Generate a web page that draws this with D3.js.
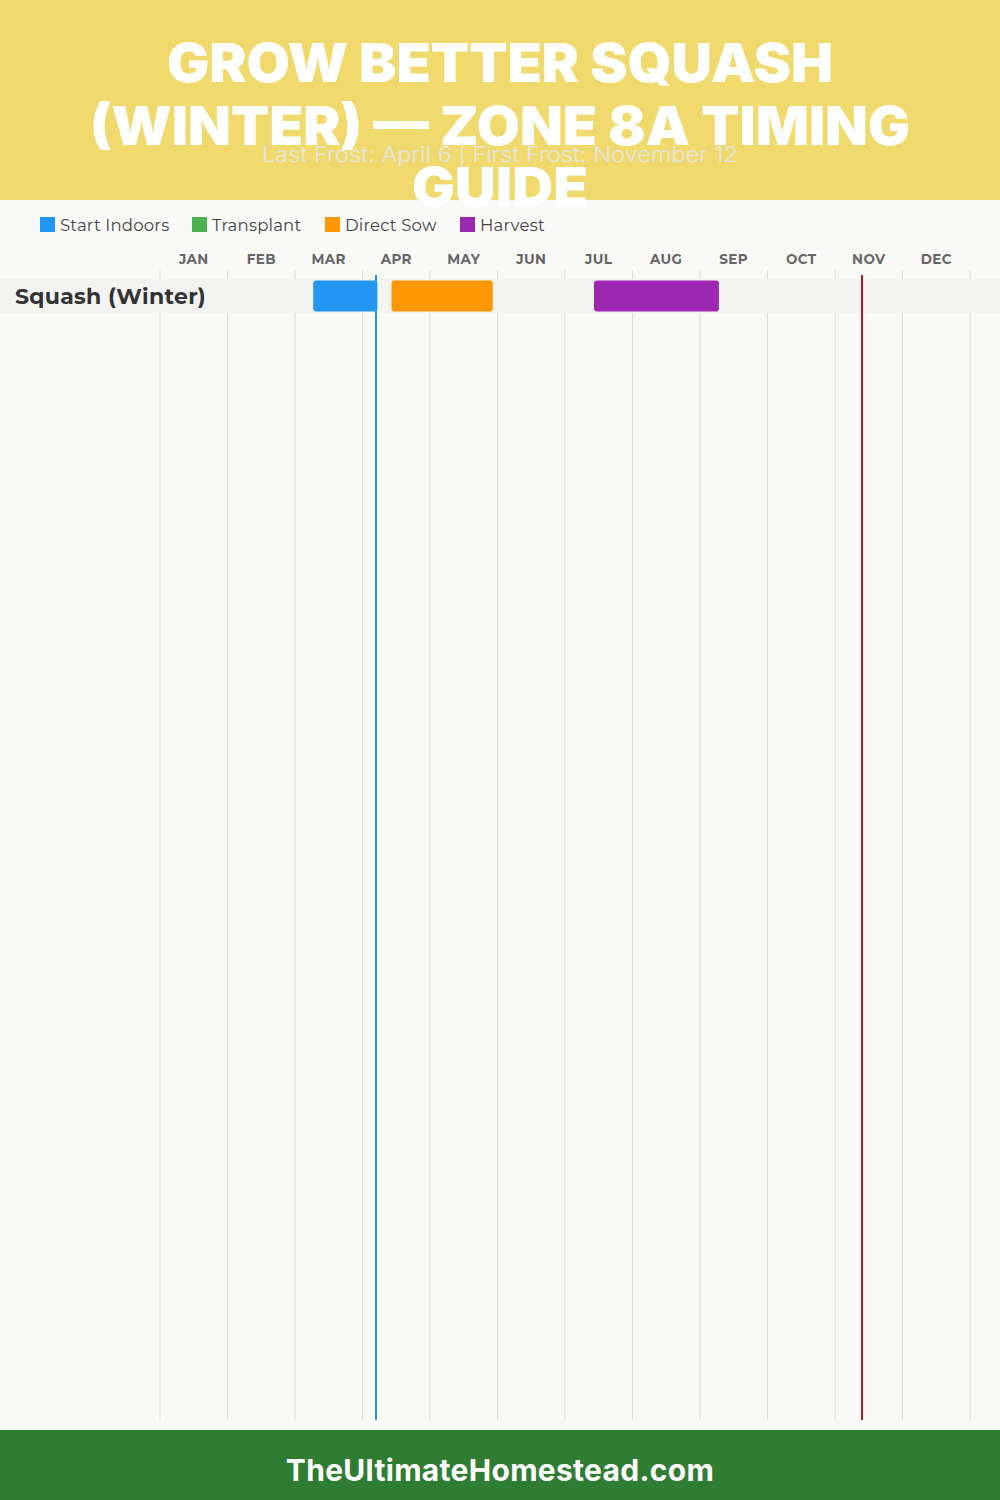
<!DOCTYPE html>
<html><head><meta charset="utf-8">
<script src="https://cdn.jsdelivr.net/npm/d3@7"></script>
<style>html,body{margin:0;padding:0;background:#f9f9f7;}svg{display:block;}</style>
</head><body>
<svg id="c" width="1000" height="1500"></svg>
<script>
const titleLines = ["GROW BETTER SQUASH", "(WINTER) — ZONE 8A TIMING", "GUIDE"];
const subtitle = "Last Frost: April 6 | First Frost: November 12";
const months = ["JAN","FEB","MAR","APR","MAY","JUN","JUL","AUG","SEP","OCT","NOV","DEC"];
const crops = ["Squash (Winter)"];
const phases = ["Start Indoors","Transplant","Direct Sow","Harvest"];
const phaseColors = ["#2196f3","#4caf50","#ff9800","#9c27b0"];
// values in months from Jan 1 (month index + day/30)
const startIndoors = [[2.27, 3.22]];
const transplant = [null];
const directSow = [[3.43, 4.93]];
const harvest = [[6.43, 8.28]];
const lastFrost = 3 + 6/30;   // April 6
const firstFrost = 10 + 12/30; // November 12
const footer = "TheUltimateHomestead.com";

const svg = d3.select("#c");
svg.append("rect").attr("width",1000).attr("height",1500).attr("fill","#f9f9f7");
svg.append("rect").attr("width",1000).attr("height",200).attr("fill","#f0da6e");

const x = d3.scaleLinear().domain([0,12]).range([160,970]);
const y = d3.scaleBand().domain(crops).range([279, 279 + 34*crops.length]);

// grid
svg.append("g").selectAll("line").data(d3.range(13)).join("line")
  .attr("x1",d=>x(d)).attr("x2",d=>x(d)).attr("y1",270).attr("y2",1420)
  .attr("stroke","#dddddd").attr("stroke-width",1);

// month labels
svg.append("g").selectAll("text").data(months).join("text")
  .attr("x",(d,i)=>x(i+0.5)).attr("y",264).attr("text-anchor","middle")
  .attr("font-family","Montserrat, Inter, sans-serif").attr("font-weight",700)
  .attr("font-size",13.5).attr("fill","#666").attr("letter-spacing",0.4).text(d=>d);

// row bands
svg.append("g").selectAll("rect").data(crops).join("rect")
  .attr("x",0).attr("width",1000).attr("y",d=>y(d)).attr("height",y.bandwidth())
  .attr("fill","#f3f3f2");
svg.append("g").selectAll("text").data(crops).join("text")
  .attr("x",15).attr("y",d=>y(d)+y.bandwidth()/2+7.5)
  .attr("font-family","Montserrat, Inter, sans-serif").attr("font-weight",700)
  .attr("font-size",22).attr("fill","#333").attr("letter-spacing",0.3).text(d=>d);

const series = [startIndoors, transplant, directSow, harvest];
series.forEach((s, k) => {
  svg.append("g").selectAll("rect").data(crops.map((c,i)=>({c, v:s[i]})).filter(d=>d.v))
    .join("rect")
    .attr("x",d=>x(d.v[0])).attr("width",d=>x(d.v[1])-x(d.v[0]))
    .attr("y",d=>y(d.c)+1.5).attr("height",y.bandwidth()-3)
    .attr("rx",3).attr("fill",phaseColors[k]);
});

// frost lines
svg.append("line").attr("x1",x(lastFrost)).attr("x2",x(lastFrost)).attr("y1",275).attr("y2",1420)
  .attr("stroke","#2196f3").attr("stroke-width",2);
svg.append("line").attr("x1",x(firstFrost)).attr("x2",x(firstFrost)).attr("y1",275).attr("y2",1420)
  .attr("stroke","#b71c1c").attr("stroke-width",2);

// legend
const legendX = [40, 192, 325, 460];
const lg = svg.append("g").selectAll("g").data(phases).join("g")
  .attr("transform",(d,i)=>`translate(${legendX[i]},217)`);
lg.append("rect").attr("width",15).attr("height",15).attr("fill",(d,i)=>phaseColors[i]);
lg.append("text").attr("x",20).attr("y",13.5).attr("font-family","Montserrat, Inter, sans-serif")
  .attr("font-size",16.5).attr("fill","#444").attr("letter-spacing",0.2).text(d=>d);

// title
const tl = [82, 145, 206];
const tw = [666, 820, 176];
svg.append("g").selectAll("text").data(titleLines).join("text")
  .attr("x",500).attr("y",(d,i)=>tl[i]).attr("text-anchor","middle")
  .attr("font-family","Inter, sans-serif").attr("font-weight",900).attr("font-size",54)
  .attr("fill","#ffffff").attr("textLength",(d,i)=>tw[i]).attr("lengthAdjust","spacingAndGlyphs")
  .text(d=>d);
svg.append("text").attr("x",500).attr("y",162).attr("text-anchor","middle")
  .attr("font-family","Inter, sans-serif").attr("font-weight",300).attr("font-size",21)
  .attr("fill","#e6e6e6").attr("textLength",476).attr("lengthAdjust","spacingAndGlyphs").text(subtitle);

// footer
svg.append("rect").attr("y",1430).attr("width",1000).attr("height",70).attr("fill","#2e7d32");
svg.append("text").attr("x",500).attr("y",1481).attr("text-anchor","middle")
  .attr("font-family","Inter, sans-serif").attr("font-weight",700).attr("font-size",30)
  .attr("fill","#fff").attr("letter-spacing",0.3).text(footer);
</script>
</body></html>
